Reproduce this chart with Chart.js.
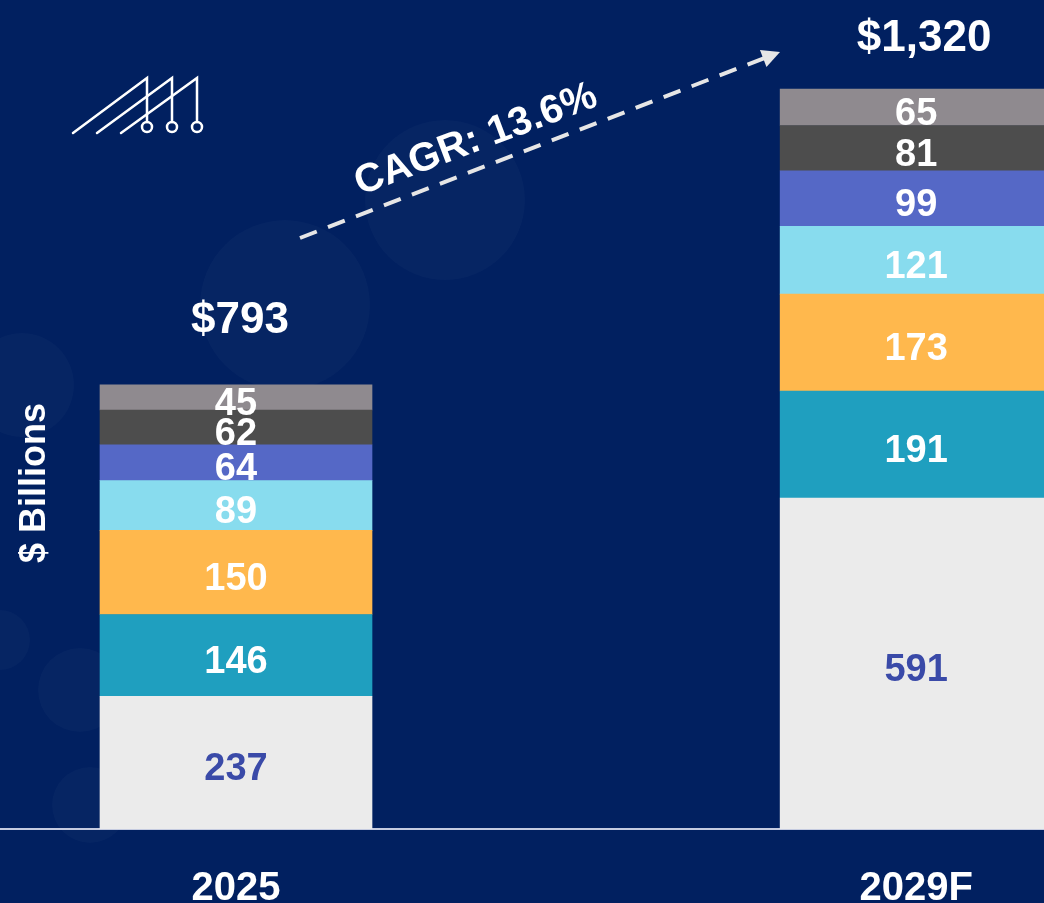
<!DOCTYPE html>
<html>
<head>
<meta charset="utf-8">
<script src="https://cdn.jsdelivr.net/npm/chart.js@4.4.1/dist/chart.umd.min.js"></script>
<style>
  html, body { margin: 0; padding: 0; background: #012060; overflow: hidden; }
  #wrap { width: 1044px; height: 903px; position: relative; }
</style>
</head>
<body>
<div id="wrap"><canvas id="chart" width="1044" height="903"></canvas></div>
<script>
const years = ["2025", "2029F"]
const totals = [793, 1320]

// stacked segments, bottom to top
const seg1 = [237, 591]
const seg2 = [146, 191]
const seg3 = [150, 173]
const seg4 = [89, 121]
const seg5 = [64, 99]
const seg6 = [62, 81]
const seg7 = [45, 65]

const segments = [seg1, seg2, seg3, seg4, seg5, seg6, seg7]
const colors = ["#ebebeb", "#1f9fbf", "#ffb84d", "#88dcee", "#5568c6", "#4d4d4d", "#8f8a8f"]

const FONT = '"Liberation Sans", Arial, Helvetica, sans-serif'

const bgPlugin = {
    id: "bg",
    beforeDraw(chart) {
        const ctx = chart.ctx
        ctx.save()
        ctx.fillStyle = "#012060"
        ctx.fillRect(0, 0, chart.width, chart.height)

        // faint bubbles
        const bubbles = [[285, 305, 85], [445, 200, 80], [22, 385, 52], [80, 690, 42], [0, 640, 30], [90, 805, 38]]
        bubbles.forEach(b => {
            ctx.beginPath()
            ctx.arc(b[0], b[1], b[2], 0, Math.PI * 2)
            ctx.fillStyle = "rgba(255,255,255,0.022)"
            ctx.fill()
        })

        // logo
        ctx.strokeStyle = "#ffffff"
        ctx.lineWidth = 2.5
        ctx.lineCap = "round"
        const xs = [147, 172, 197]
        const starts = [73, 97, 121]
        xs.forEach((x, i) => {
            ctx.beginPath()
            ctx.moveTo(starts[i], 133)
            ctx.lineTo(x, 78)
            ctx.lineTo(x, 122)
            ctx.stroke()
            ctx.beginPath()
            ctx.arc(x, 127, 5, 0, Math.PI * 2)
            ctx.stroke()
        })

        // axis title
        ctx.translate(35, 483)
        ctx.rotate(-Math.PI / 2)
        ctx.fillStyle = "#ffffff"
        ctx.font = "bold 36px " + FONT
        ctx.textAlign = "center"
        ctx.textBaseline = "middle"
        ctx.fillText("$ Billions", 0, 0)
        ctx.restore()
    }
}

const labelPlugin = {
    id: "labels",
    afterDatasetsDraw(chart) {
        const ctx = chart.ctx
        ctx.save()
        ctx.textAlign = "center"
        ctx.textBaseline = "middle"
        ctx.font = "bold 38px " + FONT
        chart.data.datasets.forEach((ds, di) => {
            const meta = chart.getDatasetMeta(di)
            meta.data.forEach((bar, i) => {
                ctx.fillStyle = di === 0 ? "#3a4aa8" : "#ffffff"
                ctx.fillText(ds.data[i].y, bar.x, (bar.y + bar.base) / 2 + 7)
            })
        })

        // totals
        const offsets = [64, 50]
        ctx.font = "bold 44px " + FONT
        ctx.fillStyle = "#ffffff"
        const top = chart.getDatasetMeta(segments.length - 1).data
        totals.forEach((t, i) => {
            ctx.fillText("$" + t.toLocaleString("en-US"), top[i].x + 4 + 4 * i, top[i].y - offsets[i])
        })

        // CAGR arrow
        const cagr = Math.pow(totals[1] / totals[0], 1 / 4) - 1
        const x0 = 300, y0 = 238, x1 = 780, y1 = 52
        const ang = Math.atan2(y1 - y0, x1 - x0)
        ctx.strokeStyle = "#e6e6e6"
        ctx.lineWidth = 4
        ctx.setLineDash([18, 12])
        ctx.beginPath()
        ctx.moveTo(x0, y0)
        ctx.lineTo(x1 - 14 * Math.cos(ang), y1 - 14 * Math.sin(ang))
        ctx.stroke()
        ctx.setLineDash([])
        ctx.fillStyle = "#e6e6e6"
        ctx.save()
        ctx.translate(x1, y1)
        ctx.rotate(ang)
        ctx.beginPath()
        ctx.moveTo(0, 0)
        ctx.lineTo(-18, -9)
        ctx.lineTo(-18, 9)
        ctx.closePath()
        ctx.fill()
        ctx.restore()

        ctx.save()
        ctx.translate(476, 140)
        ctx.rotate(-0.36)
        ctx.font = "bold 40px " + FONT
        ctx.fillStyle = "#ffffff"
        ctx.fillText("CAGR: " + (cagr * 100).toFixed(1) + "%", 0, 0)
        ctx.restore()
        ctx.restore()
    }
}

const datasets = segments.map((seg, si) => ({
    data: seg.map((v, i) => ({ x: i, y: v })),
    backgroundColor: colors[si],
    borderWidth: 0,
    barThickness: 272
}))

new Chart(document.getElementById("chart").getContext("2d"), {
    type: "bar",
    data: { datasets },
    options: {
        responsive: false,
        animation: false,
        devicePixelRatio: 1,
        layout: { padding: 0 },
        plugins: { legend: { display: false }, tooltip: { enabled: false } },
        scales: {
            x: {
                type: "linear",
                stacked: true,
                offset: false,
                min: -0.347,
                max: 1.188,
                afterBuildTicks: axis => { axis.ticks = [{ value: 0 }, { value: 1 }] },
                afterFit: axis => { axis.height = 74 },
                ticks: {
                    autoSkip: false,
                    callback: v => years[v],
                    color: "#ffffff",
                    font: { family: FONT, size: 40, weight: "bold", lineHeight: 0.9 },
                    padding: 42
                },
                grid: { display: false, drawTicks: false },
                border: { display: true, color: "#c5cbe0", width: 2 }
            },
            y: {
                stacked: true,
                display: false,
                min: 0,
                max: 1480
            }
        }
    },
    plugins: [bgPlugin, labelPlugin]
})
</script>
</body>
</html>
